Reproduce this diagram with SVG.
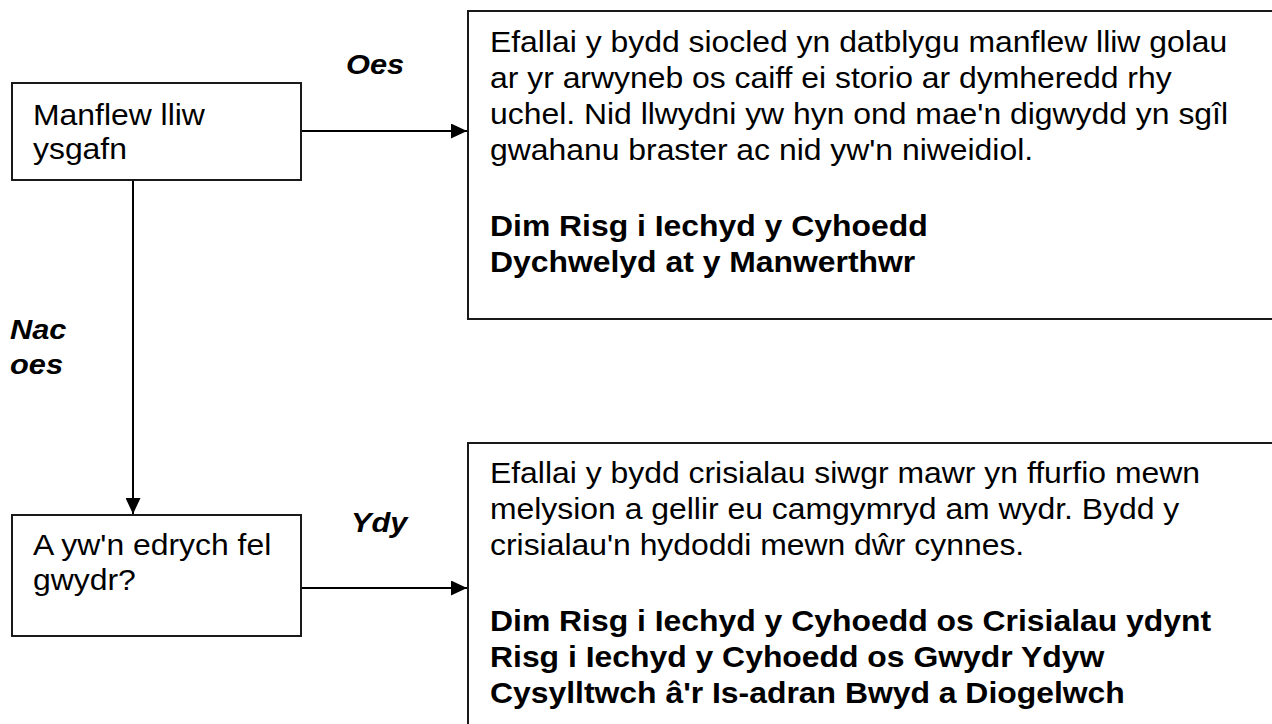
<svg xmlns="http://www.w3.org/2000/svg" width="1272" height="724" viewBox="0 0 1272 724">
<style>
.box{fill:#fff;stroke:#1a1a1a;stroke-width:2}
.t{font-family:"Liberation Sans",Arial,sans-serif;font-size:29px;fill:#000}
.b{font-weight:bold}
.lbl{font-family:"Liberation Sans",Arial,sans-serif;font-size:28px;font-weight:bold;font-style:italic;fill:#000}
.con{stroke:#000;stroke-width:2;fill:none}
</style>
<defs>
<marker id="arr" markerUnits="userSpaceOnUse" markerWidth="16" markerHeight="15" viewBox="0 0 16 15" refX="16" refY="7.5" orient="auto">
<path d="M0,0 L16,7.5 L0,15 Z" fill="#000"/>
</marker>
</defs>
<rect width="1272" height="724" fill="#fff"/>
<g id="connectors">
<line class="con" x1="301" y1="131" x2="467" y2="131" marker-end="url(#arr)"/>
<line class="con" x1="133" y1="180" x2="133" y2="514" marker-end="url(#arr)"/>
<line class="con" x1="301" y1="588" x2="467" y2="588" marker-end="url(#arr)"/>
<text class="lbl" transform="translate(346 0) scale(1.1 1)"><tspan x="0" y="74">Oes</tspan></text>
<text class="lbl" transform="translate(10 0) scale(1.1 1)"><tspan x="0" y="339">Nac</tspan><tspan x="0" y="374">oes</tspan></text>
<text class="lbl" transform="translate(351 0) scale(1.1 1)"><tspan x="0" y="532">Ydy</tspan></text>
</g>
<g id="node-manflew">
<rect class="box" x="12" y="83" width="289" height="97"/>
<text class="t" transform="translate(33 0) scale(1.1 1)"><tspan x="0" y="125">Manflew lliw</tspan><tspan x="0" y="159">ysgafn</tspan></text>
</g>
<g id="node-siocled">
<rect class="box" x="468" y="11" width="900" height="308"/>
<text class="t" transform="translate(490 0) scale(1.1 1)"><tspan x="0" y="52">Efallai y bydd siocled yn datblygu manflew lliw golau</tspan><tspan x="0" y="88">ar yr arwyneb os caiff ei storio ar dymheredd rhy</tspan><tspan x="0" y="124">uchel. Nid llwydni yw hyn ond mae'n digwydd yn sgîl</tspan><tspan x="0" y="160">gwahanu braster ac nid yw'n niweidiol.</tspan><tspan class="b" x="0" y="236">Dim Risg i Iechyd y Cyhoedd</tspan><tspan class="b" x="0" y="272">Dychwelyd at y Manwerthwr</tspan></text>
</g>
<g id="node-gwydr">
<rect class="box" x="12" y="515" width="289" height="121"/>
<text class="t" transform="translate(33 0) scale(1.1 1)"><tspan x="0" y="555">A yw'n edrych fel</tspan><tspan x="0" y="590">gwydr?</tspan></text>
</g>
<g id="node-crisialau">
<rect class="box" x="468" y="443" width="900" height="400"/>
<text class="t" transform="translate(490 0) scale(1.1 1)"><tspan x="0" y="483">Efallai y bydd crisialau siwgr mawr yn ffurfio mewn</tspan><tspan x="0" y="519">melysion a gellir eu camgymryd am wydr. Bydd y</tspan><tspan x="0" y="555">crisialau'n hydoddi mewn dŵr cynnes.</tspan><tspan class="b" x="0" y="631">Dim Risg i Iechyd y Cyhoedd os Crisialau ydynt</tspan><tspan class="b" x="0" y="667">Risg i Iechyd y Cyhoedd os Gwydr Ydyw</tspan><tspan class="b" x="0" y="703">Cysylltwch â'r Is-adran Bwyd a Diogelwch</tspan></text>
</g>
</svg>
